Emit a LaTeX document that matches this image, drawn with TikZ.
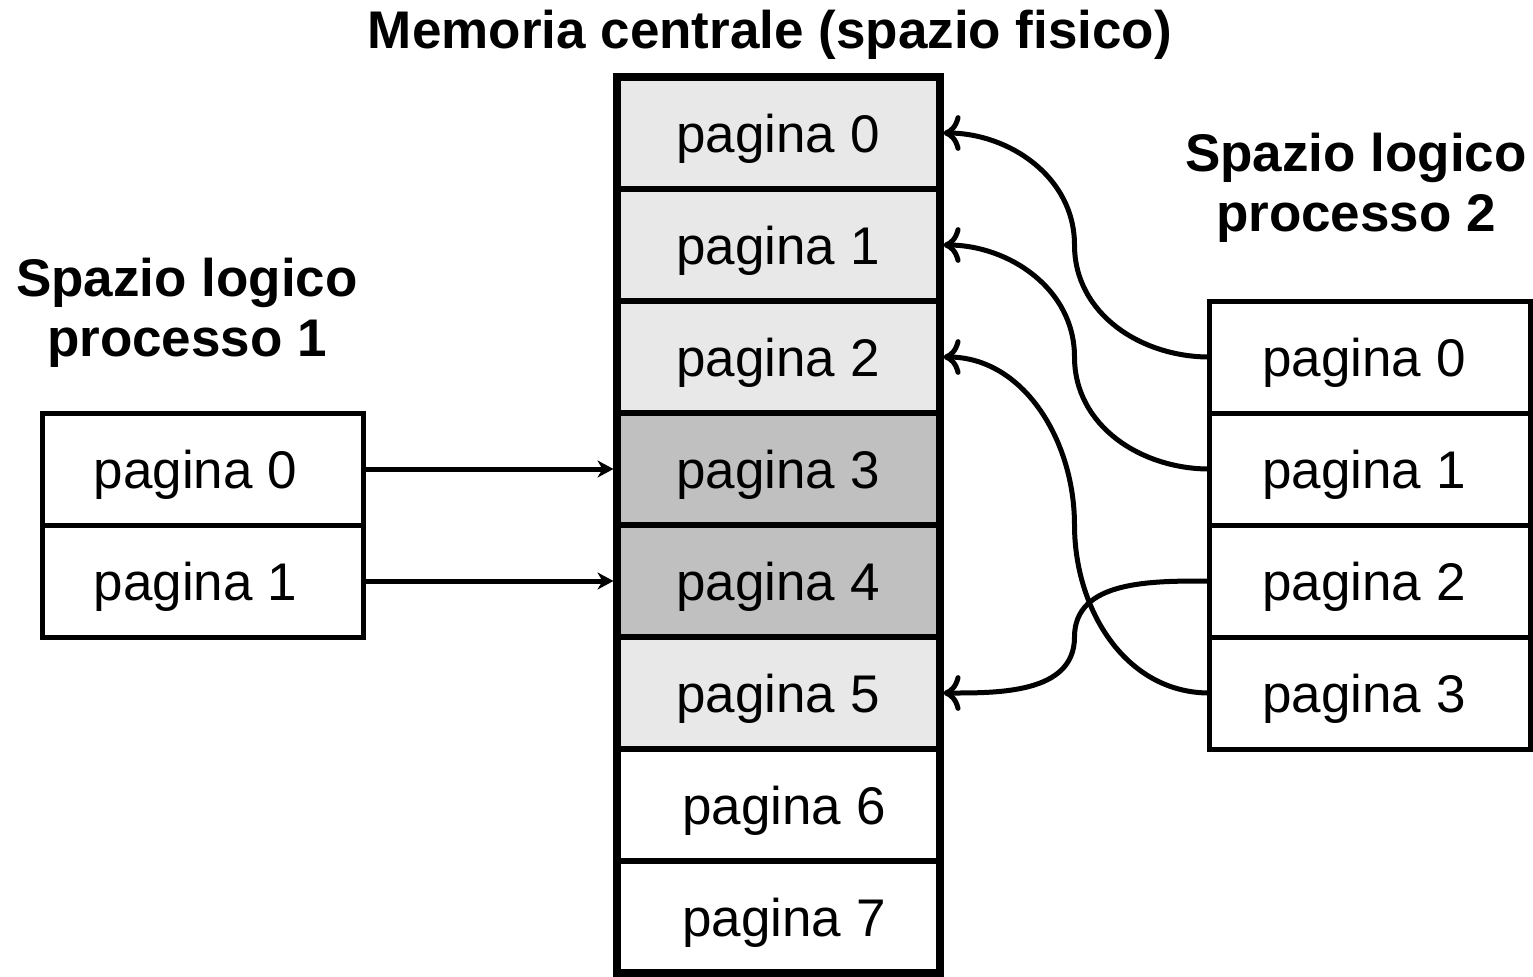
\documentclass[tikz,border=0pt]{standalone}
\usepackage{fontspec}
\setmainfont{Liberation Sans}
\usetikzlibrary{arrows.meta,calc}
\definecolor{pgused}{HTML}{E8E8E8}
\definecolor{pgproc}{HTML}{C0C0C0}
\tikzset{pg/.style={draw,line width=3pt,outer sep=0pt,minimum width=161.5pt,minimum height=56pt,inner sep=0pt,text depth=0pt,font=\fontsize{26.5}{30}\selectfont}}
\tikzset{lp/.style={draw,line width=2.5pt,outer sep=0pt,minimum width=160.5pt,minimum height=56pt,inner sep=0pt,text depth=0pt,font=\fontsize{26.5}{30}\selectfont}}
\tikzset{tt/.style={font=\fontsize{26.5}{30}\selectfont\bfseries,align=center}}
\tikzset{cv/.style={-{To[scale=1.2]},line width=2.5pt,shorten >=2pt}}
\tikzset{st/.style={-{Stealth[length=8pt,width=8.5pt,inset=2.5pt]},line width=2.5pt,shorten >=1.5pt}}

\begin{document}
\begin{tikzpicture}[x=0.5pt,y=-0.5pt]
            \useasboundingbox (0,0) rectangle (1533,976);
            % memoria centrale
            \node[tt] (tm) at (770,35) {Memoria centrale (spazio fisico)};
            \node[pg,fill=pgused] (m0) at (778,133) {pagina 0};
            \node[pg,fill=pgused] (m1) at (778,245) {pagina 1};
            \node[pg,fill=pgused] (m2) at (778,357) {pagina 2};
            \node[pg,fill=pgproc] (m3) at (778,469) {pagina 3};
            \node[pg,fill=pgproc] (m4) at (778,581) {pagina 4};
            \node[pg,fill=pgused] (m5) at (778,693) {pagina 5};
            \node[pg] (m6) at (778,805) {\hspace{6pt}pagina 6};
            \node[pg] (m7) at (778,917) {\hspace{6pt}pagina 7};
            \draw[line width=4pt] (m0.north west) rectangle (m7.south east);
            % processo 1
            \node[tt] (t1) at (187,313) {Spazio logico\\processo 1};
            \node[lp] (a0) at (202.5,469) {pagina 0\kern7pt};
            \node[lp] (a1) at (202.5,581) {pagina 1\kern7pt};
            \draw[st] (a0) -- (m3);
            \draw[st] (a1) -- (m4);
            % processo 2
            \node[tt] (t2) at (1356,188) {Spazio logico\\processo 2};
            \node[lp] (b0) at (1370,357) {pagina 0\kern6pt};
            \node[lp] (b1) at (1370,469) {pagina 1\kern6pt};
            \node[lp] (b2) at (1370,581) {pagina 2\kern6pt};
            \node[lp] (b3) at (1370,693) {pagina 3\kern6pt};
            \draw[cv] (b0.west) to[out=180,in=-90] ($(b0.west)!0.5!(m0.east)$) to[out=90,in=0] (m0.east);
            \draw[cv] (b1.west) to[out=180,in=-90] ($(b1.west)!0.5!(m1.east)$) to[out=90,in=0] (m1.east);
            \draw[cv] (b3.west) to[out=180,in=-90] ($(b3.west)!0.5!(m2.east)$) to[out=90,in=0] (m2.east);
            \draw[cv] (b2.west) to[out=180,in=90] ($(b2.west)!0.5!(m5.east)$) to[out=-90,in=0] (m5.east);
          \end{tikzpicture}
\end{document}
